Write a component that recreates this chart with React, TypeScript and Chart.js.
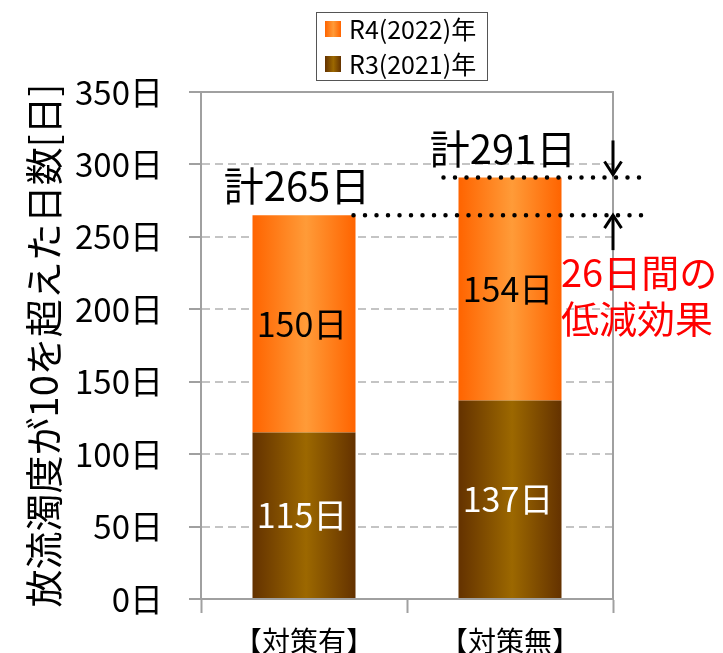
import { useEffect, useRef } from "react";
import { Chart, registerables } from "chart.js";

Chart.register(...registerables);

const categories = ["【対策有】", "【対策無】"];
const seriesNames = ["R3(2021)年", "R4(2022)年"];
const r3Values = [115, 137];
const r4Values = [150, 154];
const totals = [265, 291];
const yTicks = [0, 50, 100, 150, 200, 250, 300, 350];
const yTitle = "放流濁度が10を超えた日数[日]";
const reductionText = ["26日間の", "低減効果"];

const FONT = '"Noto Sans CJK JP", "Noto Sans", sans-serif';
const ORANGE = ["#FF6400", "#FF9B38"];
const BROWN = ["#643200", "#9C6800"];
const AXIS = "#A0A0A0";
const GRID = "#C4C4C4";

function grad(ctx: CanvasRenderingContext2D, x0: number, x1: number, c: string[]) {
  const g = ctx.createLinearGradient(x0, 0, x1, 0);
  g.addColorStop(0, c[0]);
  g.addColorStop(0.52, c[1]);
  g.addColorStop(1, c[0]);
  return g;
}

function barFill(colors: string[]) {
  return (c: any) => {
    const chart = c.chart;
    const xs = chart.scales?.x;
    if (!xs || c.dataIndex === undefined || !xs.width) return colors[0];
    const cx = xs.getPixelForValue(c.dataIndex);
    const half = (xs.width / categories.length) * 0.5 * 0.5;
    return grad(chart.ctx, cx - half, cx + half, colors);
  };
}

const annotations = {
  id: "annotations",
  beforeDatasetsDraw(chart: any) {
    const ctx: CanvasRenderingContext2D = chart.ctx;
    const area = chart.chartArea;
    ctx.save();
    ctx.strokeStyle = AXIS;
    ctx.lineWidth = 2;
    ctx.beginPath();
    ctx.moveTo(area.left - 12, area.top);
    ctx.lineTo(area.right, area.top);
    ctx.lineTo(area.right, area.bottom);
    ctx.stroke();
    ctx.restore();
  },
  afterDatasetsDraw(chart: any) {
    const ctx: CanvasRenderingContext2D = chart.ctx;
    const ys = chart.scales.y;
    const area = chart.chartArea;
    ctx.save();
    // segment labels
    const colorsFor = ["#FFFFFF", "#000000"];
    [0, 1].forEach((di) => {
      const meta = chart.getDatasetMeta(di);
      const vals = di === 0 ? r3Values : r4Values;
      meta.data.forEach((bar: any, j: number) => {
        ctx.font = `34px ${FONT}`;
        ctx.fillStyle = colorsFor[di];
        ctx.textAlign = "center";
        ctx.textBaseline = "middle";
        ctx.fillText(vals[j] + "日", bar.x - 2, (bar.y + bar.base) / 2);
      });
    });
    // totals
    const topMeta = chart.getDatasetMeta(1);
    totals.forEach((t, j) => {
      const bar = topMeta.data[j];
      ctx.font = `40px ${FONT}`;
      ctx.fillStyle = "#000";
      ctx.textAlign = "center";
      ctx.textBaseline = "middle";
      ctx.fillText("計" + t + "日", bar.x - 7, ys.getPixelForValue(t) - 29);
    });
    // dotted lines
    const y1 = ys.getPixelForValue(totals[0]);
    const y2 = ys.getPixelForValue(totals[1]);
    const b0 = topMeta.data[0];
    const b1 = topMeta.data[1];
    ctx.strokeStyle = "#000";
    ctx.lineWidth = 4.5;
    ctx.lineCap = "round";
    ctx.setLineDash([0, 11.5]);
    ctx.beginPath();
    ctx.moveTo(b0.x + b0.width / 2 - 2, y1);
    ctx.lineTo(area.right + 33, y1);
    ctx.stroke();
    ctx.beginPath();
    ctx.moveTo(b1.x - b1.width / 2 - 15, y2);
    ctx.lineTo(area.right + 30, y2);
    ctx.stroke();
    ctx.setLineDash([]);
    // arrows
    ctx.lineWidth = 3;
    ctx.lineCap = "butt";
    const ax = area.right;
    const arrow = (yFrom: number, yTo: number) => {
      const dir = yTo > yFrom ? 1 : -1;
      ctx.beginPath();
      ctx.moveTo(ax, yFrom);
      ctx.lineTo(ax, yTo);
      ctx.stroke();
      ctx.beginPath();
      ctx.moveTo(ax - 8.5, yTo - dir * 13);
      ctx.lineTo(ax, yTo);
      ctx.lineTo(ax + 8.5, yTo - dir * 13);
      ctx.stroke();
    };
    arrow(y2 - 37, y2 - 3);
    arrow(y1 + 35, y1);
    // red text
    ctx.font = `38px ${FONT}`;
    ctx.fillStyle = "#FF0000";
    ctx.textAlign = "left";
    ctx.textBaseline = "middle";
    ctx.fillText(reductionText[0], area.right - 52, y1 + 57);
    ctx.fillText(reductionText[1], area.right - 52, y1 + 103);
    ctx.restore();
  },
  afterDraw(chart: any) {
    const ctx: CanvasRenderingContext2D = chart.ctx;
    ctx.save();
    // legend
    const lx = 316, ly = 12, lw = 171, lh = 68;
    ctx.fillStyle = "#fff";
    ctx.fillRect(lx, ly, lw, lh);
    ctx.strokeStyle = "#555";
    ctx.lineWidth = 1;
    ctx.strokeRect(lx + 0.5, ly + 0.5, lw, lh);
    const entries = [
      { name: seriesNames[1], c: ORANGE, y: 21 },
      { name: seriesNames[0], c: BROWN, y: 56 },
    ];
    entries.forEach((e) => {
      ctx.fillStyle = grad(ctx, 325, 341, e.c);
      ctx.fillRect(325, e.y, 16, 16);
      ctx.fillStyle = "#000";
      ctx.font = `25px ${FONT}`;
      ctx.textAlign = "left";
      ctx.textBaseline = "middle";
      ctx.fillText(e.name, 349, e.y + 8);
    });
    ctx.restore();
  },
};

export default function App() {
  const ref = useRef<HTMLCanvasElement | null>(null);
  useEffect(() => {
    document.body.style.margin = "0";
    if (!ref.current) return;
    const chart = new Chart(ref.current, {
      type: "bar",
      data: {
        labels: categories,
        datasets: [
          {
            label: seriesNames[0],
            data: r3Values,
            backgroundColor: barFill(BROWN),
            barPercentage: 0.5,
            categoryPercentage: 1,
          },
          {
            label: seriesNames[1],
            data: r4Values,
            backgroundColor: barFill(ORANGE),
            barPercentage: 0.5,
            categoryPercentage: 1,
          },
        ],
      },
      options: {
        responsive: false,
        animation: false,
        devicePixelRatio: 1,
        layout: { padding: { top: 92, right: 110, left: 0, bottom: 0 } },
        plugins: {
          legend: { display: false },
          tooltip: { enabled: false },
        },
        scales: {
          x: {
            stacked: true,
            afterFit: (s: any) => {
              s.height = 54;
            },
            grid: {
              offset: true,
              drawOnChartArea: false,
              drawTicks: true,
              tickLength: 14,
              tickColor: AXIS,
              tickWidth: 2,
              color: AXIS,
            },
            border: { display: true, color: AXIS, width: 2 },
            ticks: {
              color: "#000",
              font: { family: FONT, size: 28 },
              padding: 12,
            },
          },
          y: {
            stacked: true,
            min: 0,
            max: 350,
            afterBuildTicks: (s: any) => {
              s.ticks = yTicks.map((v) => ({ value: v }));
            },
            afterFit: (s: any) => {
              s.width = 201;
            },
            grid: {
              color: GRID,
              lineWidth: 2,
              drawTicks: true,
              tickLength: 12,
              tickColor: AXIS,
              tickWidth: 2,
            },
            border: {
              display: true,
              color: AXIS,
              width: 2,
              dash: (c: any) => (c.tick && c.tick.value !== 350 ? [8, 5] : []),
            } as any,
            ticks: {
              color: "#000",
              font: { family: FONT, size: 33 },
              padding: 26,
              callback: (v: any) => v + "日",
            },
            title: {
              display: true,
              text: yTitle,
              color: "#000",
              font: { family: FONT, size: 38 },
              padding: { top: 21, bottom: 0 },
            },
          },
        },
      },
      plugins: [annotations],
    });
    return () => chart.destroy();
  }, []);
  return (
    <div style={{ width: 723, height: 653, position: "relative", background: "#fff" }}>
      <canvas ref={ref} width={723} height={653} style={{ display: "block" }} />
    </div>
  );
}
